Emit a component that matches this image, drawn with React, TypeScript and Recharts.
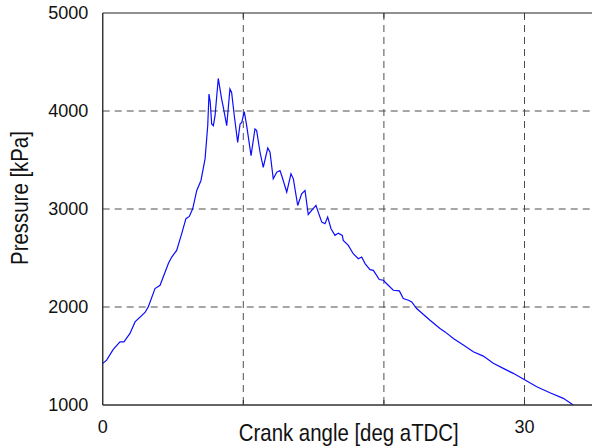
import React from 'react';
import { LineChart, Line, XAxis, YAxis, CartesianGrid, ReferenceLine } from 'recharts';

// crank angle [deg aTDC] and cylinder pressure [kPa]
const crankAngle = [
  0, 0.28, 0.75, 1.23, 1.51, 1.94, 2.3, 3.01, 3.24, 3.72, 4.08, 4.67, 4.91, 5.26, 5.62, 5.92,
  6.16, 6.4, 6.69, 6.99, 7.28, 7.47, 7.56, 7.65, 7.75, 7.87, 7.99, 8.22, 8.46, 8.58, 8.82, 9.05,
  9.17, 9.36, 9.6, 9.77, 9.89, 10.07, 10.24, 10.55, 10.83, 10.95, 11.19, 11.42, 11.74, 11.9,
  12.13, 12.38, 12.61, 12.77, 13.09, 13.39, 13.56, 13.87, 14.15, 14.39, 14.62, 14.86, 15.17,
  15.33, 15.58, 15.81, 16.0, 16.24, 16.52, 16.76, 17.04, 17.11, 17.47, 17.82, 18.18, 18.42,
  18.66, 19.01, 19.25, 19.67, 19.96, 20.31, 20.67, 21.1, 21.38, 21.74, 21.98, 22.33, 23.28,
  23.99, 24.35, 24.94, 25.65, 26.36, 27.07, 27.78, 28.49, 29.2, 30.04, 30.87, 31.81, 32.76, 33.47,
];
const pressure = [
  1425, 1458, 1567, 1644, 1644, 1730, 1848, 1944, 2001, 2188, 2222, 2443, 2510, 2578, 2748, 2901,
  2924, 3002, 3189, 3291, 3511, 3850, 4173, 4088, 3868, 3850, 3952, 4332, 4122, 4037, 3850, 4224,
  4189, 3952, 3680, 3868, 3884, 3993, 3850, 3545, 3817, 3800, 3579, 3426, 3623, 3579,
  3308, 3375, 3392, 3324, 3171, 3359, 3308, 3036, 3155, 3189, 2944, 2985, 3036,
  2968, 2866, 2850, 2917, 2799, 2731, 2754, 2731, 2680, 2629, 2544, 2493, 2510,
  2443, 2381, 2374, 2280, 2273, 2222, 2171, 2164, 2086, 2069, 2052, 1984, 1865,
  1781, 1746, 1679, 1611, 1543, 1499, 1425, 1374, 1323, 1255, 1186, 1125, 1068, 1000,
];

const angleTicks = [0, 10, 20, 30];
const angleTickLabels = ['0', '', '', '30'];
const angleGrid = [10, 20, 30];
const pressureTicks = [1000, 2000, 3000, 4000, 5000];
const pressureGrid = [2000, 3000, 4000];

const data = crankAngle.map((a, i) => ({ angle: a, p: pressure[i] }));

const font = '"Liberation Sans", Arial, Helvetica, sans-serif';
const PLOT_TOP = 13;
const TICK_GAP = 15;

const AngleTick = ({ x, y, payload }: any) => {
  const i = angleTicks.indexOf(payload.value);
  const axisY = y - TICK_GAP;
  return (
    <g>
      {i > 0 && <line x1={x} x2={x} y1={axisY} y2={axisY - 5} stroke="#333" />}
      {i > 0 && <line x1={x} x2={x} y1={PLOT_TOP} y2={PLOT_TOP + 5} stroke="#333" />}
      <text x={x} y={y} dy="0.71em" textAnchor="middle" fontFamily={font} fontSize={18} fill="#111">
        {angleTickLabels[i] ?? ''}
      </text>
    </g>
  );
};

const XLabel = ({ viewBox }: any) => {
  const cx = viewBox.x + viewBox.width / 2;
  return (
    <text
      transform={`translate(${cx},${viewBox.y + 36}) scale(0.85,1)`}
      textAnchor="middle"
      fontFamily={font}
      fontSize={24}
      fill="#111"
    >
      Crank angle [deg aTDC]
    </text>
  );
};

const YLabel = ({ viewBox }: any) => {
  const cy = viewBox.y + viewBox.height / 2 - 11;
  return (
    <text
      transform={`translate(28,${cy}) rotate(-90) scale(0.85,1)`}
      textAnchor="middle"
      fontFamily={font}
      fontSize={24}
      fill="#111"
    >
      Pressure [kPa]
    </text>
  );
};

export default function App() {
  return (
    <div style={{ position: 'absolute', left: 0, top: 0, width: 592, height: 448, overflow: 'hidden', background: '#fff' }}>
      <LineChart width={600} height={448} data={data} margin={{ top: PLOT_TOP, right: 5.2, left: 0, bottom: 0 }}>
        <CartesianGrid
          stroke="#4d4d4d"
          strokeDasharray="7 5"
          horizontalValues={pressureGrid}
          verticalValues={angleGrid}
        />
        <XAxis
          type="number"
          dataKey="angle"
          domain={[0, 35]}
          ticks={angleTicks}
          tickLine={false}
          tickSize={0}
          tickMargin={TICK_GAP}
          height={43}
          stroke="#333"
          tick={<AngleTick />}
          allowDataOverflow
          label={<XLabel />}
        />
        <YAxis
          type="number"
          domain={[1000, 5000]}
          ticks={pressureTicks}
          tickLine={false}
          tickSize={0}
          tickMargin={14.5}
          width={102.7}
          stroke="#333"
          tick={{ fontFamily: font, fontSize: 18, fill: '#111' }}
          allowDataOverflow
          label={<YLabel />}
        />
        <ReferenceLine y={pressureTicks[pressureTicks.length - 1]} stroke="#222" strokeWidth={1.2} />
        <ReferenceLine y={pressureTicks[0]} stroke="#333" strokeWidth={1.2} />
        <ReferenceLine x={angleTicks[0]} stroke="#222" strokeWidth={1.2} />
        <Line
          type="linear"
          dataKey="p"
          stroke="#0c0cff"
          strokeWidth={1.2}
          dot={false}
          isAnimationActive={false}
        />
      </LineChart>
    </div>
  );
}
